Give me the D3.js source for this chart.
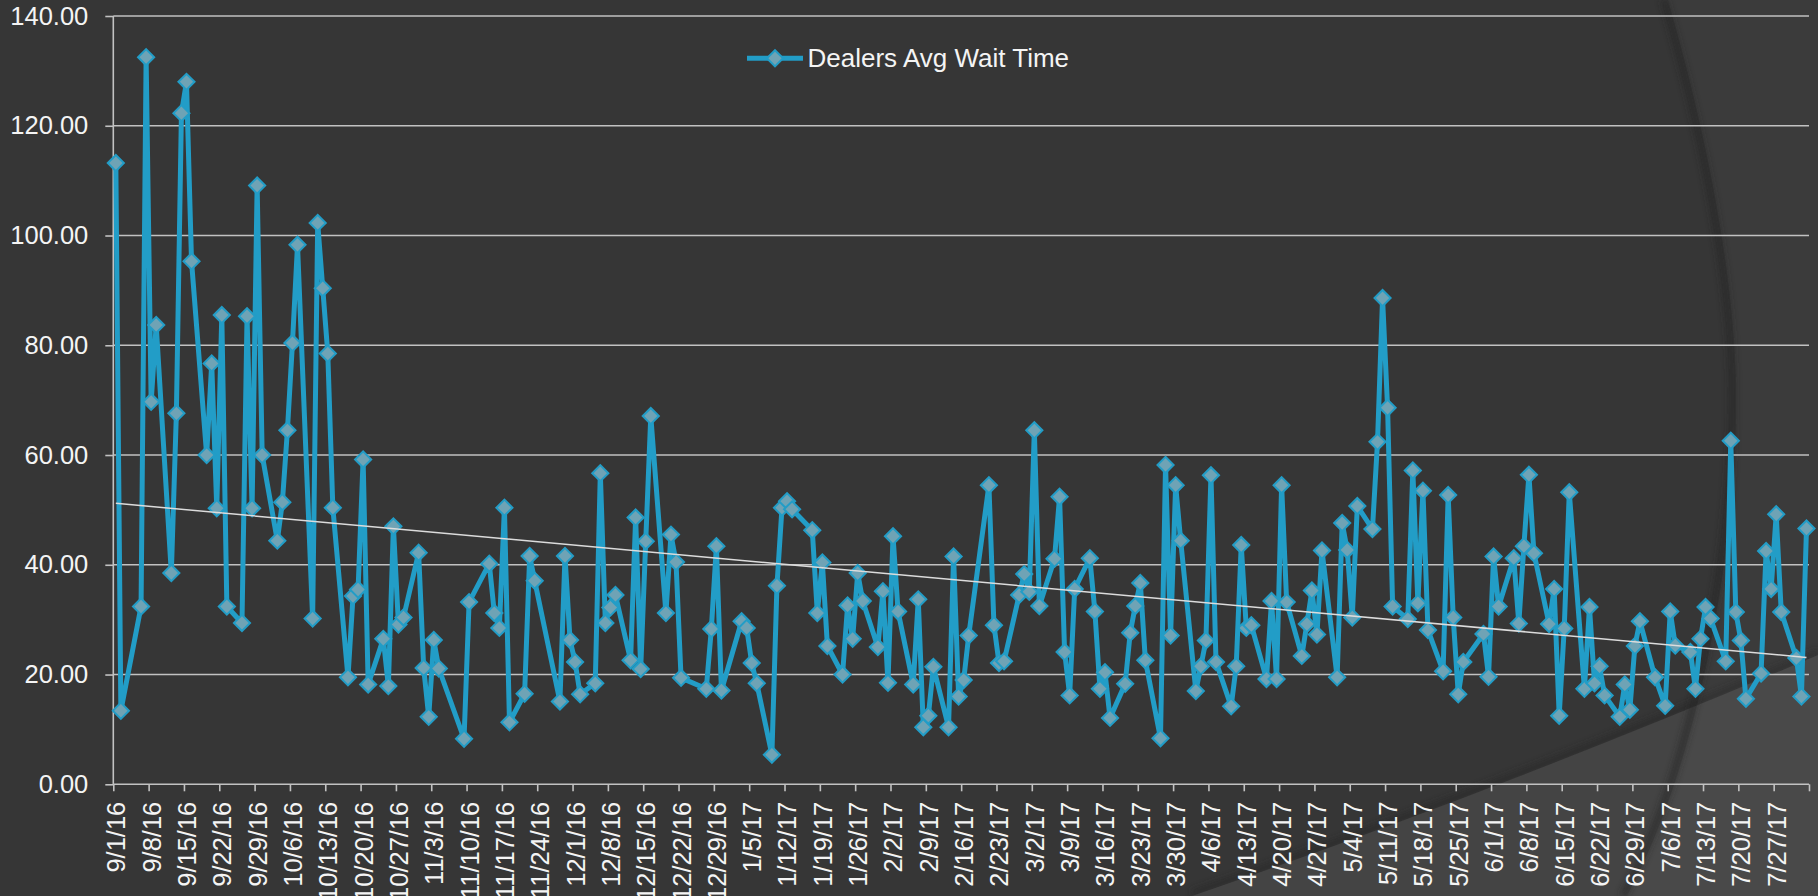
<!DOCTYPE html>
<html>
<head>
<meta charset="utf-8">
<script src="https://cdn.jsdelivr.net/npm/d3@7"></script>
<style>
  html, body { margin: 0; padding: 0; background: #363636; overflow: hidden; }
  svg { display: block; }
  text { font-family: "Liberation Sans", Arial, sans-serif; }
</style>
</head>
<body>
<svg id="chart" width="1818" height="896"></svg>
<script>
// ---------------- DATA ----------------
const seriesName = "Dealers Avg Wait Time";

const dates = [
  "9/1/16","9/2/16","9/6/16","9/7/16","9/8/16","9/9/16","9/12/16","9/13/16","9/14/16","9/15/16","9/16/16",
  "9/19/16","9/20/16","9/21/16","9/22/16","9/23/16","9/26/16","9/27/16","9/28/16","9/29/16","9/30/16",
  "10/3/16","10/4/16","10/5/16","10/6/16","10/7/16","10/10/16","10/11/16","10/12/16","10/13/16","10/14/16",
  "10/17/16","10/18/16","10/19/16","10/20/16","10/21/16","10/24/16","10/25/16","10/26/16","10/27/16","10/28/16",
  "10/31/16","11/1/16","11/2/16","11/3/16","11/4/16","11/9/16","11/10/16",
  "11/14/16","11/15/16","11/16/16","11/17/16","11/18/16","11/21/16","11/22/16","11/23/16",
  "11/28/16","11/29/16","11/30/16","12/1/16","12/2/16","12/5/16","12/6/16","12/7/16","12/8/16","12/9/16",
  "12/12/16","12/13/16","12/14/16","12/15/16","12/16/16","12/19/16","12/20/16","12/21/16","12/22/16",
  "12/27/16","12/28/16","12/29/16","12/30/16","1/3/17","1/4/17","1/5/17","1/6/17",
  "1/9/17","1/10/17","1/11/17","1/12/17","1/13/17","1/17/17","1/18/17","1/19/17","1/20/17",
  "1/23/17","1/24/17","1/25/17","1/26/17","1/27/17","1/30/17","1/31/17","2/1/17","2/2/17","2/3/17",
  "2/6/17","2/7/17","2/8/17","2/9/17","2/10/17","2/13/17","2/14/17","2/15/17","2/16/17","2/17/17",
  "2/21/17","2/22/17","2/23/17","2/24/17","2/27/17","2/28/17","3/1/17","3/2/17","3/3/17",
  "3/6/17","3/7/17","3/8/17","3/9/17","3/10/17","3/13/17","3/14/17","3/15/17","3/16/17","3/17/17",
  "3/20/17","3/21/17","3/22/17","3/23/17","3/24/17","3/27/17","3/28/17","3/29/17","3/30/17","3/31/17",
  "4/3/17","4/4/17","4/5/17","4/6/17","4/7/17","4/10/17","4/11/17","4/12/17","4/13/17","4/14/17",
  "4/17/17","4/18/17","4/19/17","4/20/17","4/21/17","4/24/17","4/25/17","4/26/17","4/27/17","4/28/17",
  "5/1/17","5/2/17","5/3/17","5/4/17","5/5/17","5/8/17","5/9/17","5/10/17","5/11/17","5/12/17",
  "5/15/17","5/16/17","5/17/17","5/18/17","5/19/17","5/22/17","5/23/17","5/24/17","5/25/17","5/26/17",
  "5/30/17","5/31/17","6/1/17","6/2/17","6/5/17","6/6/17","6/7/17","6/8/17","6/9/17",
  "6/12/17","6/13/17","6/14/17","6/15/17","6/16/17","6/19/17","6/20/17","6/21/17","6/22/17","6/23/17",
  "6/26/17","6/27/17","6/28/17","6/29/17","6/30/17","7/3/17","7/5/17","7/6/17","7/7/17",
  "7/10/17","7/11/17","7/12/17","7/13/17","7/14/17","7/17/17","7/18/17","7/19/17","7/20/17","7/21/17",
  "7/24/17","7/25/17","7/26/17","7/27/17","7/28/17","7/31/17","8/1/17","8/2/17"
];

const waitTimes = [
  113.2,13.4,32.4,132.5,69.7,83.7,38.5,67.6,122.3,128.0,95.3,
  60.0,76.7,50.3,85.5,32.4,29.4,85.3,50.3,109.1,60.0,
  44.4,51.4,64.5,80.4,98.3,30.2,102.3,90.4,78.5,50.4,
  19.5,34.3,35.5,59.2,18.2,26.5,17.9,47.0,29.1,30.4,
  42.2,21.2,12.3,26.3,21.1,8.3,33.2,
  40.2,31.2,28.5,50.4,11.3,16.5,41.6,37.1,
  15.1,41.6,26.3,22.3,16.4,18.4,56.7,29.4,32.2,34.5,
  22.6,48.6,21.0,44.3,67.1,31.2,45.5,40.5,19.4,
  17.4,28.3,43.4,17.1,29.7,28.5,22.1,18.4,
  5.4,36.2,50.4,51.6,50.1,46.3,31.2,40.4,25.2,
  20.0,32.6,26.5,38.5,33.4,25.0,35.2,18.5,45.2,31.5,
  18.2,33.7,10.4,12.5,21.4,10.4,41.5,16.0,19.0,27.1,
  54.5,29.0,22.1,22.4,34.5,38.3,35.1,64.5,32.5,
  41.1,52.4,24.1,16.2,35.6,41.2,31.5,17.4,20.4,12.1,
  18.3,27.6,32.5,36.7,22.6,8.4,58.2,27.1,54.5,44.4,
  17.0,21.5,26.2,56.3,22.3,14.2,21.5,43.6,28.5,29.0,
  19.2,33.4,19.2,54.5,33.2,23.4,29.2,35.3,27.3,42.6,
  19.5,47.6,42.7,30.4,50.7,46.5,62.4,88.6,68.6,32.4,
  30.1,57.2,33.0,53.5,28.1,20.6,52.7,30.4,16.4,22.3,
  27.4,19.6,41.5,32.4,41.2,29.3,43.4,56.4,42.1,
  29.2,35.6,12.5,28.4,53.2,17.4,32.3,18.4,21.5,16.2,
  12.3,18.2,13.6,25.2,29.7,19.5,14.3,31.5,25.3,
  24.1,17.4,26.5,32.3,30.2,22.4,62.6,31.4,26.2,15.6,
  20.2,42.5,35.6,49.2,31.4,23.0,16.0,46.6
];

const yTicks = [0, 20, 40, 60, 80, 100, 120, 140];
const axisStart = "9/1/16";
const axisEnd = "8/3/17";
const lastLabel = "7/27/17";

// ---------------- SETUP ----------------
const W = 1818, H = 896;
const M = { left: 113.3, right: 1809, top: 16, bottom: 784.3 };
const colLine = "#229dc7", colMarker = "#6fa3b5", colGrid = "#c2c2c2", colText = "#f4f4f4";

const parse = d3.utcParse("%m/%d/%y");
const fmt = d3.utcFormat("%-m/%-d/%y");
const data = dates.map((d, i) => ({ date: parse(d), value: waitTimes[i] }));

const x = d3.scaleUtc().domain([parse(axisStart), parse(axisEnd)]).range([M.left, M.right]);
const y = d3.scaleLinear().domain([0, 140]).range([M.bottom, M.top]);
const px = d => x(d3.utcHour.offset(d.date, 12));

const svg = d3.select("#chart");
const defs = svg.append("defs");
defs.append("filter").attr("id", "blur").attr("x", "-20%").attr("y", "-20%").attr("width", "140%").attr("height", "140%")
  .append("feGaussianBlur").attr("stdDeviation", 3);

// ---------------- BACKGROUND ----------------
svg.append("rect").attr("width", W).attr("height", H).attr("fill", "#363636");
// lower-right wedge
svg.append("path").attr("d", "M1192,896 Q1500,790 1818,655").attr("fill", "none")
  .attr("stroke", "#262626").attr("stroke-width", 6).attr("opacity", 0.6).attr("filter", "url(#blur)")
  .attr("transform", "translate(0,-3)");
svg.append("path").attr("d", "M1192,896 Q1500,790 1818,655 L1818,896 Z").attr("fill", "#444444");
// right arc region
svg.append("path").attr("d", "M1668,0 C1700,110 1740,280 1736,420 C1733,560 1700,760 1627,896")
  .attr("fill", "none").attr("stroke", "#222").attr("stroke-width", 7).attr("opacity", 0.55)
  .attr("filter", "url(#blur)").attr("transform", "translate(-4,0)");
svg.append("path").attr("d", "M1668,0 C1700,110 1740,280 1736,420 C1733,560 1700,760 1627,896 L1818,896 L1818,0 Z")
  .attr("fill", "#ffffff").attr("opacity", 0.028);

// ---------------- GRID ----------------
svg.append("g").selectAll("line").data(yTicks.filter(t => t > 0)).join("line")
  .attr("x1", M.left).attr("x2", M.right)
  .attr("y1", d => y(d)).attr("y2", d => y(d))
  .attr("stroke", colGrid).attr("stroke-width", 1.6);

// ---------------- AXES ----------------
const yAxis = d3.axisLeft(y).tickValues(yTicks).tickFormat(d3.format(".2f")).tickSize(8).tickPadding(17);
const gy = svg.append("g").attr("transform", `translate(${M.left},0)`).call(yAxis);
gy.select(".domain").attr("stroke", colGrid).attr("stroke-width", 1.6).attr("d", `M0,${M.top}V${M.bottom}`);
gy.selectAll(".tick line").attr("stroke", colGrid).attr("stroke-width", 1.6);
gy.selectAll(".tick text").attr("fill", colText).style("font-size", "25.5px")
  .style("font-family", "'Liberation Sans', Arial, sans-serif");

const xTickVals = d3.utcThursday.range(parse(axisStart), d3.utcDay.offset(parse(axisEnd), 1));
const xAxis = d3.axisBottom(x).tickValues(xTickVals)
  .tickFormat(d => (d <= parse(lastLabel) ? fmt(d) : "")).tickSize(7);
const gx = svg.append("g").attr("transform", `translate(0,${M.bottom})`).call(xAxis);
gx.select(".domain").attr("stroke", colGrid).attr("stroke-width", 1.6).attr("d", `M${M.left},0H${M.right}`);
gx.selectAll(".tick line").attr("stroke", colGrid).attr("stroke-width", 1.6);
gx.selectAll(".tick text").attr("fill", colText).style("font-size", "25.5px")
  .style("font-family", "'Liberation Sans', Arial, sans-serif")
  .attr("transform", "rotate(-90)").attr("x", -17.4).attr("y", 0).attr("dy", "0.45em")
  .style("text-anchor", "end");

// ---------------- SERIES ----------------
const line = d3.line().x(px).y(d => y(d.value));
svg.append("path").datum(data).attr("d", line).attr("fill", "none")
  .attr("stroke", colLine).attr("stroke-width", 5).attr("stroke-linejoin", "round");

const diamond = d3.symbol().type(d3.symbolSquare).size(130);
svg.append("g").selectAll("path").data(data).join("path")
  .attr("d", diamond)
  .attr("transform", d => `translate(${px(d)},${y(d.value)}) rotate(45)`)
  .attr("fill", colMarker).attr("stroke", colLine).attr("stroke-width", 2);

// ---------------- TRENDLINE (linear least squares) ----------------
const xs = data.map(d => +d3.utcHour.offset(d.date, 12));
const ys = data.map(d => d.value);
const mx = d3.mean(xs), my = d3.mean(ys);
const slope = d3.sum(xs, (v, i) => (v - mx) * (ys[i] - my)) / d3.sum(xs, v => (v - mx) * (v - mx));
const icpt = my - slope * mx;
const x0 = xs[0], x1 = xs[xs.length - 1];
svg.append("line")
  .attr("x1", x(new Date(x0))).attr("y1", y(icpt + slope * x0))
  .attr("x2", x(new Date(x1))).attr("y2", y(icpt + slope * x1))
  .attr("stroke", "#dcdcdc").attr("stroke-width", 1.5);

// ---------------- LEGEND ----------------
const lg = svg.append("g");
lg.append("line").attr("x1", 747).attr("x2", 803).attr("y1", 58.3).attr("y2", 58.3)
  .attr("stroke", colLine).attr("stroke-width", 5);
lg.append("path").attr("d", diamond).attr("transform", "translate(775,58.3) rotate(45)")
  .attr("fill", colMarker).attr("stroke", colLine).attr("stroke-width", 2);
lg.append("text").attr("x", 807.5).attr("y", 67.3).attr("fill", colText)
  .style("font-size", "26px").text(seriesName);
</script>
</body>
</html>
